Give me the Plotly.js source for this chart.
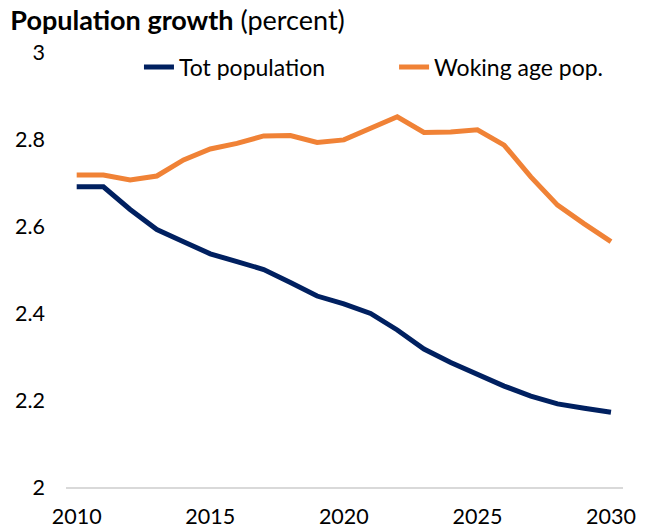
<!DOCTYPE html>
<html>
<head>
<meta charset="utf-8">
<script src="https://cdn.plot.ly/plotly-3.0.1.min.js"></script>
<style>html,body{margin:0;padding:0;background:#fff;}#chart{width:646px;height:531px;}</style>
</head>
<body>
<div id="chart"></div>
<script>
const years = [2010,2011,2012,2013,2014,2015,2016,2017,2018,2019,2020,2021,2022,2023,2024,2025,2026,2027,2028,2029,2030];
const totPopulation = [2.690,2.690,2.638,2.592,2.564,2.536,2.518,2.500,2.470,2.439,2.421,2.399,2.361,2.317,2.286,2.258,2.232,2.209,2.191,2.181,2.172];
const workingAgePop = [2.717,2.717,2.706,2.715,2.752,2.777,2.790,2.807,2.808,2.792,2.798,2.825,2.851,2.815,2.816,2.821,2.786,2.713,2.648,2.605,2.564];
const yTicks = [2,2.2,2.4,2.6,2.8,3];
const yTickLabels = ['2','2.2','2.4','2.6','2.8','3'];
const xTicks = [2010,2015,2020,2025,2030];
const seriesNames = ['Tot population','Woking age pop.'];

const font = 'Lato, "Open Sans", sans-serif';
const traces = [
  {x: years, y: totPopulation, name: seriesNames[0], type: 'scatter', mode: 'lines',
   line: {color: '#002060', width: 5}, legend: 'legend'},
  {x: years, y: workingAgePop, name: seriesNames[1], type: 'scatter', mode: 'lines',
   line: {color: '#F08236', width: 5}, legend: 'legend2'}
];
const legendBase = {orientation: 'h', xanchor: 'left', y: 0.9655, yanchor: 'middle',
  font: {family: font, size: 23, color: '#000'}, bgcolor: 'rgba(0,0,0,0)'};
const layout = {
  width: 646, height: 531,
  margin: {l: 66, r: 23, t: 52, b: 44},
  paper_bgcolor: '#fff', plot_bgcolor: '#fff',
  font: {family: font, color: '#000', size: 18},
  title: {text: '<b>Population growth</b> (percent)', x: 0.016, xref: 'container', xanchor: 'left',
          y: 0.98, yref: 'container', yanchor: 'top', pad: {l: 0, t: 0},
          font: {family: font, size: 27, color: '#000'}},
  xaxis: {range: [2009.6, 2030.45], tickvals: xTicks, ticktext: xTicks.map(String),
          showgrid: false, zeroline: false, showline: true, linecolor: '#d9d9d9', linewidth: 1.5,
          ticks: '', ticklabelstandoff: 10, tickfont: {size: 21.5, color: '#000'}},
  yaxis: {range: [2, 3], tickvals: yTicks, ticktext: yTickLabels,
          showgrid: false, zeroline: false, showline: false, ticks: '',
          ticklabelstandoff: 20, tickfont: {size: 21.5, color: '#000'}},
  showlegend: true,
  legend: Object.assign({}, legendBase, {x: 0.131}),
  legend2: Object.assign({}, legendBase, {x: 0.589})
};
Plotly.newPlot('chart', traces, layout, {displayModeBar: false, staticPlot: true});
</script>
</body>
</html>
